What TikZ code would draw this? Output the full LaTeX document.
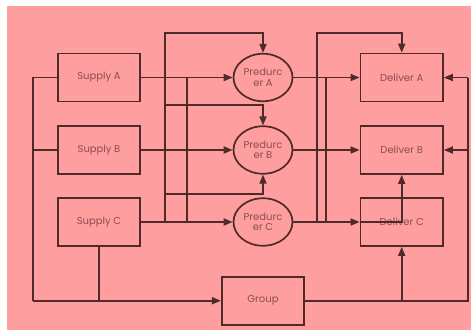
\documentclass[tikz,border=0pt]{standalone}
\usepackage{fontspec}
\setmainfont{Poppins}
\usetikzlibrary{arrows.meta,shapes.geometric}
\definecolor{bgpink}{HTML}{FF9E9E}
\definecolor{ink}{HTML}{4E2A2A}
\definecolor{label}{HTML}{8A4E52}
\tikzset{
  x=1pt, y=-1pt,
  wire/.style={draw=ink, line width=1.7pt},
  flow/.style={wire, -{Triangle[length=9pt,width=7pt]}},
  boxnode/.style={draw=ink, line width=1.7pt, minimum width=82.5pt, minimum height=48pt,
    inner sep=0pt, font=\fontsize{10}{12}\selectfont, text=label},
  prodnode/.style={ellipse, draw=ink, line width=1.7pt, minimum width=59pt, minimum height=47.5pt,
    inner sep=0pt, align=center, font=\fontsize{10}{10.5}\selectfont, text=label}
}
\begin{document}
\begin{tikzpicture}
\useasboundingbox (0,0) rectangle (471,330);
\fill[bgpink] (7,6) rectangle (471,330);

% supplies
\node[boxnode] (sA) at (99,77.5) {Supply A};
\node[boxnode] (sB) at (99,150) {Supply B};
\node[boxnode] (sC) at (99,222) {Supply C};
% producers
\node[prodnode] (pA) at (263,77.5) {Predurc\\er A};
\node[prodnode] (pB) at (263,150) {Predurc\\er B};
\node[prodnode] (pC) at (263,222) {Predurc\\er C};
% deliveries
\node[boxnode] (dA) at (401.7,77.5) {Deliver A};
\node[boxnode] (dB) at (401.7,150) {Deliver B};
\node[boxnode] (dC) at (401.7,222) {Deliver C};
% group
\node[boxnode] (grp) at (263,300.7) {Group};

% junction points
\coordinate (lA) at (33,77.5);
\coordinate (lB) at (33,150);
\coordinate (lG) at (33,300.7);
\coordinate (cG) at (sC.south |- grp.west);
\coordinate (t1) at (164.7,33.3);
\coordinate (t1b) at (164.7,222);
\coordinate (m1) at (164.7,105.3);
\coordinate (m2) at (164.7,194);
\coordinate (v2a) at (187.3,77.5);
\coordinate (v2b) at (187.3,222);
\coordinate (t2) at (316.7,33.3);
\coordinate (t2b) at (316.7,222);
\coordinate (v4a) at (326.3,77.5);
\coordinate (v4b) at (326.3,222);
\coordinate (rG) at (467.7,300.7);
\coordinate (rA) at (467.7,77.5);
\coordinate (rB) at (467.7,150);
\coordinate (bC) at (dC.south |- grp.east);

% supplies to producers
\draw[flow] (sA.east) -- (pA.west);
\draw[flow] (sB.east) -- (pB.west);
\draw[flow] (sC.east) -- (pC.west);

% left collector into the group
\draw[wire] (sA.west) -- (lA) -- (lG);
\draw[wire] (sB.west) -- (lB);
\draw[flow] (lG) -- (grp.west);
\draw[wire] (sC.south) -- (cG);

% feedback lines between supply and producer columns
\draw[flow] (t1b) -- (t1) -| (pA.north);
\draw[flow] (m1) -| (pB.north);
\draw[flow] (m2) -| (pB.south);
\draw[wire] (v2a) -- (v2b);

% producers to deliveries
\draw[flow] (pA.east) -- (dA.west);
\draw[flow] (pB.east) -- (dB.west);
\draw[flow] (pC.east) -- (dC.west);
\draw[flow] (t2b) -- (t2) -| (dA.north);
\draw[wire] (v4a) -- (v4b);
\draw[flow] (dC.west) -- (dC.center) -- (dB.south);

% group feeding the deliveries
\draw[wire] (grp.east) -- (rG) -- (rA);
\draw[flow] (rA) -- (dA.east);
\draw[flow] (rB) -- (dB.east);
\draw[flow] (bC) -- (dC.south);
\end{tikzpicture}
\end{document}
